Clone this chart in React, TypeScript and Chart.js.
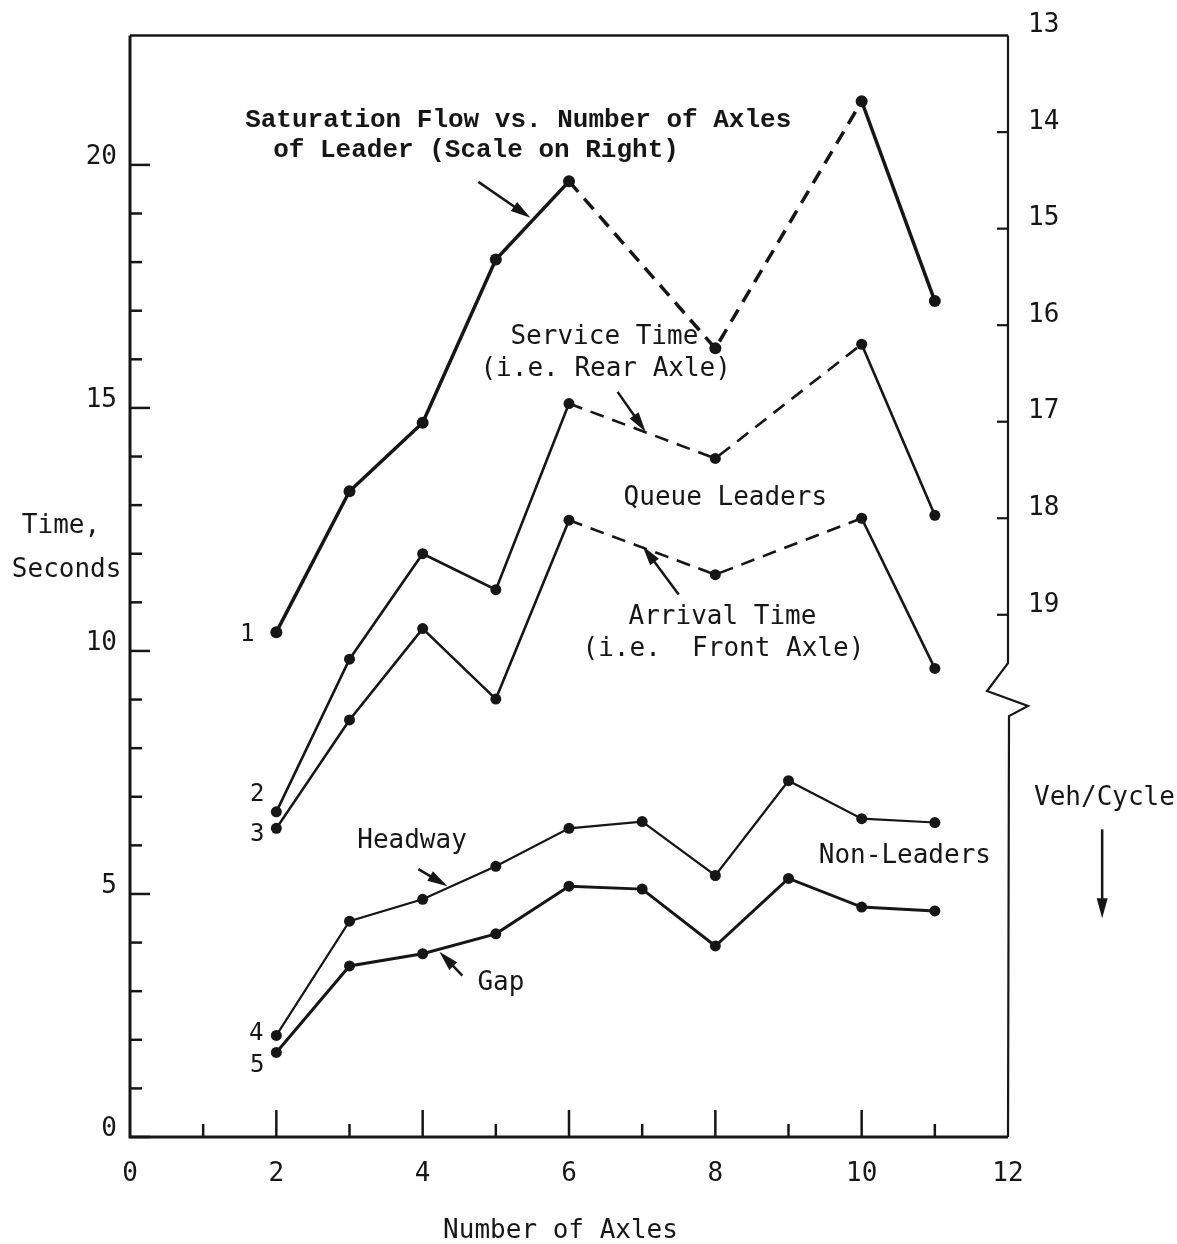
import React, { useEffect, useRef } from 'react';
import { Chart, registerables } from 'chart.js';

Chart.register(...registerables);

// ---- data ----
const leaderAxles = [2, 3, 4, 5, 6, 8, 10, 11];
const allAxles = [2, 3, 4, 5, 6, 7, 8, 9, 10, 11];
const saturationFlow = [19.18, 17.72, 17.01, 15.32, 14.51, 16.24, 13.68, 15.75]; // veh/cycle, right scale
const serviceTime = [6.69, 9.83, 12.0, 11.26, 15.09, 13.96, 16.31, 12.79];
const arrivalTime = [6.35, 8.58, 10.46, 9.01, 12.69, 11.57, 12.73, 9.64];
const headway = [2.09, 4.44, 4.89, 5.57, 6.35, 6.49, 5.38, 7.33, 6.55, 6.47];
const gap = [1.74, 3.52, 3.77, 4.18, 5.16, 5.10, 3.93, 5.32, 4.73, 4.65];
const seriesNumbers = ['1', '2', '3', '4', '5'];
const leftTickLabels = [0, 5, 10, 15, 20];
const rightTickLabels = [13, 14, 15, 16, 17, 18, 19];
const xTickLabels = [0, 2, 4, 6, 8, 10, 12];

const INK = '#161616';
const MONO = "'DejaVu Sans Mono', monospace";
const TYPE = "'Liberation Mono', 'DejaVu Sans Mono', monospace";

// annotation texts placed in data units (x: axles, y: seconds, left-aligned, vertically centred)
const texts = [
  { t: 'Saturation Flow vs. Number of Axles', x: 1.574, y: 20.92, f: TYPE, w: 'bold' },
  { t: 'of Leader (Scale on Right)', x: 1.957, y: 20.29, f: TYPE, w: 'bold' },
  { t: 'Service Time', x: 5.2, y: 16.46, f: MONO, w: 'normal' },
  { t: '(i.e. Rear Axle)', x: 4.79, y: 15.8, f: MONO, w: 'normal' },
  { t: 'Queue Leaders', x: 6.746, y: 13.14, f: MONO, w: 'normal' },
  { t: 'Arrival Time', x: 6.814, y: 10.69, f: MONO, w: 'normal' },
  { t: '(i.e.  Front Axle)', x: 6.185, y: 10.03, f: MONO, w: 'normal' },
  { t: 'Headway', x: 3.106, y: 6.08, f: MONO, w: 'normal' },
  { t: 'Gap', x: 4.748, y: 3.17, f: MONO, w: 'normal' },
  { t: 'Non-Leaders', x: 9.414, y: 5.77, f: MONO, w: 'normal' },
  { t: 'Time,', x: -1.478, y: 12.57, f: MONO, w: 'normal' },
  { t: 'Seconds', x: -1.615, y: 11.67, f: MONO, w: 'normal' },
  { t: 'Veh/Cycle', x: 12.356, y: 6.96, f: MONO, w: 'normal' },
];
const arrows = [
  { x1: 4.762, y1: 19.65, x2: 5.473, y2: 18.91 },
  { x1: 6.664, y1: 15.33, x2: 7.047, y2: 14.51 },
  { x1: 7.499, y1: 11.16, x2: 7.006, y2: 12.16 },
  { x1: 3.941, y1: 5.51, x2: 4.338, y2: 5.16 },
  { x1: 4.543, y1: 3.32, x2: 4.228, y2: 3.81 },
  { x1: 13.287, y1: 6.33, x2: 13.287, y2: 4.5 },
];
// offsets (px) of the series number from the first point of each series
const numberOffsets = [
  [-29, 3],
  [-19, -17],
  [-19, 6],
  [-20, -2],
  [-19, 13],
];

function drawArrow(ctx: CanvasRenderingContext2D, x1: number, y1: number, x2: number, y2: number) {
  const a = Math.atan2(y2 - y1, x2 - x1);
  const hl = 20;
  const hw = 5.5;
  ctx.beginPath();
  ctx.moveTo(x1, y1);
  ctx.lineTo(x2 - Math.cos(a) * hl * 0.6, y2 - Math.sin(a) * hl * 0.6);
  ctx.lineWidth = 2.5;
  ctx.stroke();
  const bx = x2 - Math.cos(a) * hl;
  const by = y2 - Math.sin(a) * hl;
  ctx.beginPath();
  ctx.moveTo(x2, y2);
  ctx.lineTo(bx - Math.sin(a) * hw, by + Math.cos(a) * hw);
  ctx.lineTo(bx + Math.sin(a) * hw, by - Math.cos(a) * hw);
  ctx.closePath();
  ctx.fill();
}

const decor = {
  id: 'decor',
  beforeDraw(chart: any) {
    const { ctx } = chart;
    ctx.save();
    ctx.fillStyle = '#ffffff';
    ctx.fillRect(0, 0, chart.width, chart.height);
    ctx.restore();
  },
  afterDraw(chart: any) {
    const { ctx, chartArea: ca, scales } = chart;
    const sx = scales.x;
    const sy = scales.y;
    const sr = scales.yR;
    ctx.save();
    ctx.strokeStyle = INK;
    ctx.fillStyle = INK;
    ctx.lineCap = 'butt';

    // frame
    ctx.lineWidth = 3;
    ctx.beginPath();
    ctx.moveTo(ca.left, ca.top);
    ctx.lineTo(ca.left, ca.bottom);
    ctx.lineTo(ca.right, ca.bottom);
    ctx.stroke();
    ctx.lineWidth = 2.5;
    ctx.beginPath();
    ctx.moveTo(ca.left, ca.top);
    ctx.lineTo(ca.right, ca.top);
    ctx.stroke();
    // right axis with break
    const bk = sr.getPixelForValue(19.5);
    ctx.lineWidth = 2.2;
    ctx.beginPath();
    ctx.moveTo(ca.right, ca.top);
    ctx.lineTo(ca.right, bk);
    ctx.lineTo(ca.right - 21, bk + 28);
    ctx.lineTo(ca.right + 20, bk + 43);
    ctx.lineTo(ca.right + 1, bk + 53);
    ctx.lineTo(ca.right, ca.bottom);
    ctx.stroke();

    // left ticks
    ctx.lineWidth = 2.5;
    for (let v = 0; v <= 20; v++) {
      const p = sy.getPixelForValue(v);
      const len = v % 5 === 0 ? 20 : 12;
      ctx.beginPath();
      ctx.moveTo(ca.left, p);
      ctx.lineTo(ca.left + len, p);
      ctx.stroke();
    }
    // bottom ticks
    for (let v = 1; v <= 11; v++) {
      const p = sx.getPixelForValue(v);
      const len = v % 2 === 0 ? 27 : 13;
      ctx.beginPath();
      ctx.moveTo(p, ca.bottom);
      ctx.lineTo(p, ca.bottom - len);
      ctx.stroke();
    }
    // right ticks
    ctx.lineWidth = 2.2;
    for (let v = 14; v <= 19; v++) {
      const p = sr.getPixelForValue(v);
      ctx.beginPath();
      ctx.moveTo(ca.right, p);
      ctx.lineTo(ca.right - 11, p);
      ctx.stroke();
    }

    // texts
    ctx.textBaseline = 'middle';
    ctx.textAlign = 'left';
    for (const t of texts) {
      ctx.font = `${t.w} 26px ${t.f}`;
      ctx.fillText(t.t, sx.getPixelForValue(t.x), sy.getPixelForValue(t.y));
    }
    ctx.font = `26px ${MONO}`;
    ctx.textAlign = 'center';
    ctx.fillText('Number of Axles', sx.getPixelForValue(5.884), sy.getPixelForValue(-1.945));

    // series numbers next to first points
    ctx.font = `24px ${MONO}`;
    chart.data.datasets.forEach((ds: any, i: number) => {
      const meta = chart.getDatasetMeta(i);
      const pt = meta.data[0];
      const [dx, dy] = numberOffsets[i];
      ctx.fillText(seriesNumbers[i], pt.x + dx, pt.y + dy);
    });

    // arrows
    for (const a of arrows) {
      drawArrow(
        ctx,
        sx.getPixelForValue(a.x1),
        sy.getPixelForValue(a.y1),
        sx.getPixelForValue(a.x2),
        sy.getPixelForValue(a.y2)
      );
    }
    ctx.restore();
  },
};

const dashMid = (ctx: any) =>
  ctx.p0.parsed.x >= 6 && ctx.p1.parsed.x <= 10 ? [14, 9] : undefined;

export default function App() {
  const ref = useRef<HTMLCanvasElement | null>(null);
  useEffect(() => {
    if (!ref.current) return;
    const line = (data: { x: number; y: number }[], yAxisID: string, w: number, r: number, dashed: boolean) => ({
      data,
      yAxisID,
      borderColor: INK,
      backgroundColor: INK,
      pointBackgroundColor: INK,
      pointBorderColor: INK,
      borderWidth: w,
      pointRadius: r,
      pointBorderWidth: 0,
      tension: 0,
      fill: false,
      segment: dashed ? { borderDash: dashMid } : undefined,
    });
    const chart = new Chart(ref.current, {
      type: 'line',
      data: {
        datasets: [
          line(leaderAxles.map((x, i) => ({ x, y: saturationFlow[i] })), 'yR', 3.5, 6, true),
          line(leaderAxles.map((x, i) => ({ x, y: serviceTime[i] })), 'y', 2.6, 5.5, true),
          line(leaderAxles.map((x, i) => ({ x, y: arrivalTime[i] })), 'y', 2.6, 5.5, true),
          line(allAxles.map((x, i) => ({ x, y: headway[i] })), 'y', 2.2, 5.5, false),
          line(allAxles.map((x, i) => ({ x, y: gap[i] })), 'y', 3, 5.5, false),
        ] as any,
      },
      options: {
        responsive: false,
        animation: false,
        devicePixelRatio: 1,
        layout: { padding: { top: 33, left: 0, right: 0, bottom: 0 } },
        plugins: { legend: { display: false }, tooltip: { enabled: false } },
        events: [],
        scales: {
          x: {
            type: 'linear',
            position: 'bottom',
            min: 0,
            max: 12,
            afterFit: (s: any) => { s.height = 107; },
            afterBuildTicks: (s: any) => { s.ticks = xTickLabels.map((v) => ({ value: v })); },
            grid: { display: false, drawTicks: false },
            border: { display: false },
            ticks: {
              autoSkip: false,
              maxRotation: 0,
              padding: 22,
              color: INK,
              font: { family: MONO, size: 26 },
            },
          },
          y: {
            type: 'linear',
            position: 'left',
            min: 0,
            max: 22.66,
            afterFit: (s: any) => { s.width = 130; },
            afterBuildTicks: (s: any) => { s.ticks = leftTickLabels.map((v) => ({ value: v })); },
            grid: { display: false, drawTicks: false },
            border: { display: false },
            ticks: {
              autoSkip: false,
              padding: 13,
              labelOffset: -8,
              color: INK,
              font: { family: MONO, size: 26 },
            },
          },
          yR: {
            type: 'linear',
            position: 'right',
            reverse: true,
            min: 13,
            max: 24.41,
            afterFit: (s: any) => { s.width = 169; },
            afterBuildTicks: (s: any) => { s.ticks = rightTickLabels.map((v) => ({ value: v })); },
            grid: { display: false, drawTicks: false },
            border: { display: false },
            ticks: {
              autoSkip: false,
              padding: 20,
              labelOffset: -10,
              color: INK,
              font: { family: MONO, size: 26 },
            },
          },
        },
      } as any,
      plugins: [decor],
    });
    return () => chart.destroy();
  }, []);
  return (
    <div style={{ position: 'absolute', left: 0, top: 0, width: 1177, height: 1244, background: '#fff' }}>
      <canvas ref={ref} width={1177} height={1244} style={{ display: 'block' }} />
    </div>
  );
}
